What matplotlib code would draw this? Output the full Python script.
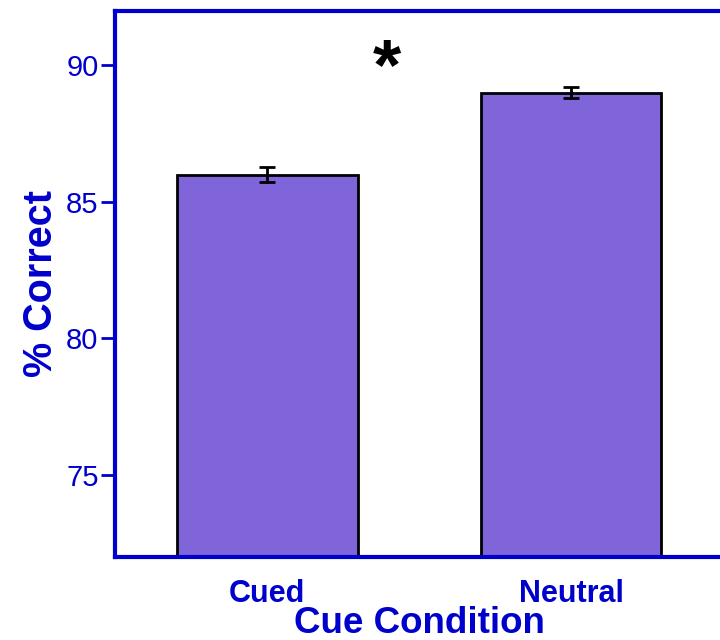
import matplotlib
matplotlib.use('Agg')
from matplotlib import pyplot as plt
import numpy as np

conditions = ['Cued', 'Neutral']
pct_correct = [86.0, 89.0]
sem = [0.27, 0.2]
y_ticks = [75, 80, 85, 90]

blue = '#0000CC'
plt.rcParams['font.family'] = ['Liberation Sans', 'DejaVu Sans']

fig = plt.figure(figsize=(7.2, 6.4), dpi=100)
ax = fig.add_axes([0.16, 0.13, 0.844, 0.853])

x = np.arange(len(conditions))
ax.bar(x, pct_correct, width=0.595, color='#8064D9', edgecolor='black',
       linewidth=2, zorder=2)
ax.errorbar(x, pct_correct, yerr=sem, fmt='none', ecolor='black',
            elinewidth=2, capsize=5.5, capthick=2, zorder=3)

ax.set_xlim(-0.5, 1.5)
ax.set_ylim(72, 92)
ax.set_yticks(y_ticks)
ax.set_xticks(x)
ax.set_xticklabels(conditions, fontsize=22, fontweight='bold', color=blue)
ax.tick_params(axis='x', length=0, pad=16)
ax.tick_params(axis='y', length=10, width=2, color=blue, labelcolor=blue,
               labelsize=21, pad=2)

for side in ['left', 'top', 'bottom', 'right']:
    ax.spines[side].set_color(blue)
    ax.spines[side].set_linewidth(3)
    ax.spines[side].set_zorder(4)

ax.set_ylabel('% Correct', fontsize=28.5, fontweight='bold', color=blue,
              labelpad=4)
ax.set_xlabel('Cue Condition', fontsize=26.5, fontweight='bold', color=blue,
              labelpad=-2)

# significance marker
ax.text(0.395, 89.85, '*', fontsize=52, fontweight='bold', ha='center',
        va='center', color='black')

fig.savefig('out.png', dpi=100)
